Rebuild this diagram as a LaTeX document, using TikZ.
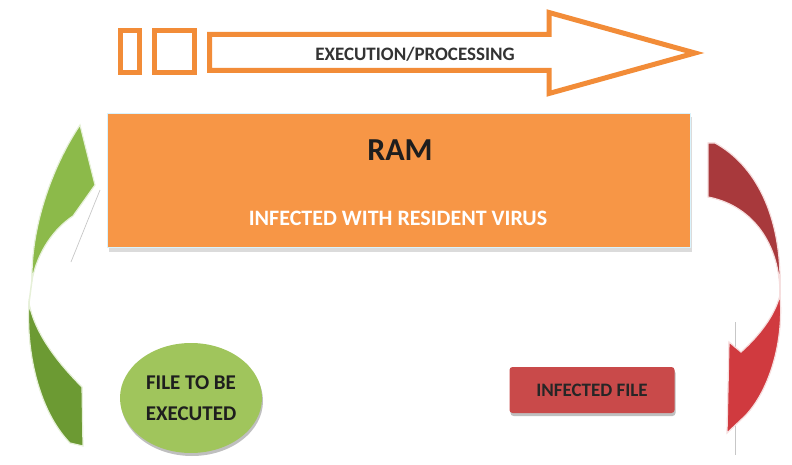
\documentclass[tikz,border=0pt]{standalone}
\usepackage{fontspec}
\setmainfont{Carlito}
\usetikzlibrary{shapes.geometric,shadows}

\definecolor{ramorange}{HTML}{F79646}
\definecolor{lineorange}{HTML}{F28C38}
\definecolor{filegreen}{HTML}{A0C55C}
\definecolor{infred}{HTML}{C94A4A}
\definecolor{greenlight}{HTML}{8CBA4A}
\definecolor{greendark}{HTML}{6C9A33}
\definecolor{reddark}{HTML}{A8393C}
\definecolor{redbright}{HTML}{D03A3F}
\definecolor{inktext}{HTML}{1E1E1E}
\definecolor{glow}{HTML}{E6F0D8}
\definecolor{redglow}{HTML}{F6DEDE}

\begin{document}
\begin{tikzpicture}[x=1pt,y=-1pt,
  outlinebox/.style={draw=lineorange,line width=5pt,fill=white},
  softshadow/.style={drop shadow={shadow xshift=1pt,shadow yshift=-3pt,opacity=0.25,fill=black}},
  labeltext/.style={font=\bfseries\fontsize{19}{19}\selectfont,text=inktext}]
\useasboundingbox (0,0) rectangle (792,465);

% execution / processing arrow
\draw[outlinebox] (120.5,30.5) rectangle (139.5,72.5);
\draw[outlinebox] (154.5,30.5) rectangle (194.5,72.5);
\draw[outlinebox,line join=miter]
  (209.5,34.5) -- (549,34.5) -- (549,12.5) -- (695,53) -- (549,93.5)
  -- (549,70.5) -- (209.5,70.5) -- cycle;
\node[labeltext,text=black!80] (exec) at (415,54) {EXECUTION/PROCESSING};

% RAM block
\fill[black!14] (109,117) rectangle (692,252);
\node[fill=ramorange,draw=white!85!cyan,line width=0.6pt,minimum width=583pt,
  minimum height=134pt,inner sep=0pt,anchor=north west] (ram) at (107,113) {};
\node[font=\bfseries\fontsize{32}{32}\selectfont,text=inktext] (ramtitle) at (400,150) {RAM};
\node[font=\bfseries\fontsize{22}{22}\selectfont,text=white] (ramsub) at (398,218)
  {INFECTED WITH RESIDENT VIRUS};

% file to be executed
\node[ellipse,fill=filegreen,softshadow,minimum width=142pt,minimum height=110pt,
  inner sep=0pt,align=center,font=\bfseries\fontsize{21}{31}\selectfont,text=inktext]
  (file) at (191,398) {FILE TO BE\\EXECUTED};

% infected file
\node[rectangle,rounded corners=3pt,fill=infred,softshadow,minimum width=165pt,
  minimum height=46pt,inner sep=0pt,labeltext,text=black!85] (inf) at (592,390)
  {INFECTED FILE};

% green curved arrow: file goes up into RAM
\draw[black!22,line width=0.7pt] (100,190) -- (71,262);
\filldraw[fill=greendark,draw=glow,line width=1.2pt]
  (29,303) .. controls (26,350) and (38,410) .. (70,443) -- (83,446)
  -- (82,387) .. controls (60,365) and (35,335) .. (29,303) -- cycle;
\filldraw[fill=greenlight,draw=glow,line width=1.2pt]
  (80,125) -- (95,185) -- (73,216)
  .. controls (55,228) and (38,250) .. (32,280)
  .. controls (31,230) and (50,170) .. (80,125) -- cycle;
\draw[glow,line width=1.5pt] (32,280) -- (29,303);

% red curved arrow: infected RAM writes back the file
\draw[black!22,line width=0.7pt] (735,322) -- (735,455);
\filldraw[fill=reddark,draw=redglow,line width=1.2pt]
  (708,143) -- (715,143) .. controls (755,165) and (782,215) .. (780,290)
  .. controls (778,240) and (750,205) .. (708,197) -- cycle;
\filldraw[fill=redbright,draw=redglow,line width=1.2pt]
  (780,295) .. controls (784,340) and (770,390) .. (745,416)
  -- (727,433) -- (729,342) -- (741,352)
  .. controls (760,335) and (775,315) .. (780,295) -- cycle;
\draw[redglow,line width=1.5pt] (780,290) -- (780,295);
\end{tikzpicture}
\end{document}
